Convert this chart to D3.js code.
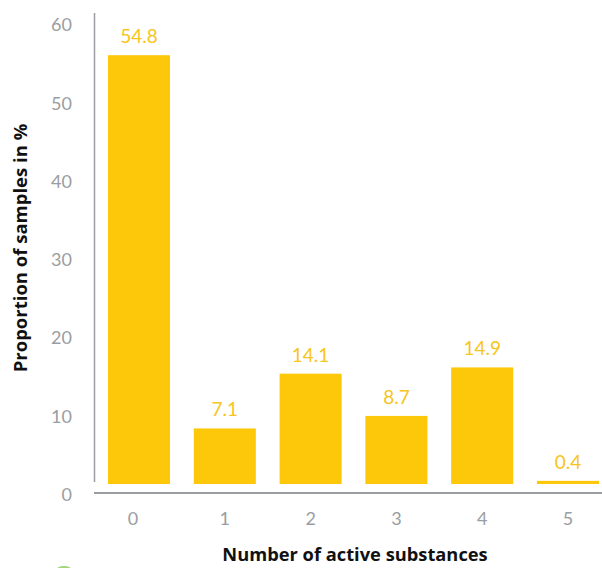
<!DOCTYPE html>
<html><head><meta charset="utf-8">
<script src="https://cdn.jsdelivr.net/npm/d3@7"></script>
<style>body{margin:0;background:#fff}svg{display:block}</style>
</head><body>
<script>
const categories = ["0","1","2","3","4","5"];
const values = [54.8, 7.1, 14.1, 8.7, 14.9, 0.4];
const valueLabels = ["54.8","7.1","14.1","8.7","14.9","0.4"];
const yTicks = [0,10,20,30,40,50,60];

const W = 602, H = 568;
const svg = d3.select("body").append("svg").attr("width", W).attr("height", H);

const y = d3.scaleLinear().domain([0,60]).range([494.5, 25]);
const x = d3.scaleBand().domain(categories).range([96, 611]).paddingInner(0.277).paddingOuter(0.14);
const barBase = 484;
const shift = y(0) - barBase;

const gray = "#9a9da1";
const yellow = "#fec80a";
const font = "Lato, 'Open Sans', sans-serif";

// y axis line
svg.append("line").attr("x1",94.5).attr("x2",94.5).attr("y1",13).attr("y2",482)
  .attr("stroke",gray).attr("stroke-width",1.5);
// x axis line
svg.append("line").attr("x1",94).attr("x2",602).attr("y1",493).attr("y2",493)
  .attr("stroke",gray).attr("stroke-width",2);

// y tick labels
svg.append("g").selectAll("text").data(yTicks).join("text")
  .attr("x",72).attr("y",d=>y(d)).attr("dy","0.35em").attr("text-anchor","end")
  .attr("font-family",font).attr("font-size",18).attr("font-weight",400).attr("fill",gray)
  .text(d=>d);

// x tick labels
svg.append("g").selectAll("text").data(categories).join("text")
  .attr("x",(d,i)=> x(d)+x.bandwidth()/2 - (i===0?6:0)).attr("y",519).attr("dy","0.35em").attr("text-anchor","middle")
  .attr("font-family",font).attr("font-size",18).attr("font-weight",400).attr("fill",gray)
  .text(d=>d);

// bars
svg.append("g").selectAll("rect").data(values).join("rect")
  .attr("x",(d,i)=>x(categories[i])).attr("width",x.bandwidth())
  .attr("y",d=>y(d)-shift).attr("height",d=>y(0)-y(d))
  .attr("fill",yellow);

// value labels
svg.append("g").selectAll("text").data(values).join("text")
  .attr("x",(d,i)=>x(categories[i])+x.bandwidth()/2).attr("y",d=>y(d)-shift-12)
  .attr("text-anchor","middle")
  .attr("font-family",font).attr("font-size",19).attr("fill","#f7c520")
  .text((d,i)=>valueLabels[i]);

// axis titles
svg.append("text").attr("transform","translate(27,248) rotate(-90)").attr("text-anchor","middle")
  .attr("font-family","'Open Sans', sans-serif").attr("font-weight",700).attr("font-size",18.5).attr("fill","#111")
  .text("Proportion of samples in %");
svg.append("text").attr("x",355).attr("y",561).attr("text-anchor","middle")
  .attr("font-family","'Open Sans', sans-serif").attr("font-weight",700).attr("font-size",18.3).attr("fill","#111")
  .text("Number of active substances");

// partial green logo mark at bottom-left
svg.append("ellipse").attr("cx",64).attr("cy",570).attr("rx",8).attr("ry",4).attr("fill","#7cc242").attr("opacity",0.7);
</script>
</body></html>
